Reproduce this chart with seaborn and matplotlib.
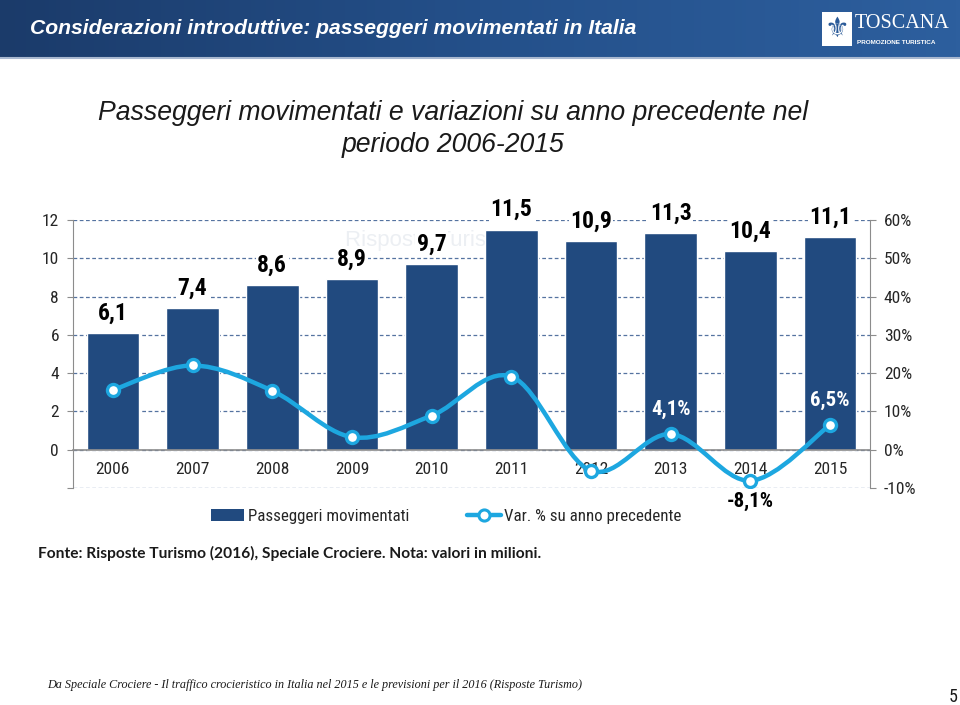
import numpy as np
import pandas as pd
import matplotlib
matplotlib.use("Agg")
import matplotlib.pyplot as plt
import seaborn as sns
from matplotlib.path import Path
from matplotlib.patches import PathPatch, Rectangle, Patch
from matplotlib.lines import Line2D
from matplotlib.colors import LinearSegmentedColormap
from matplotlib import font_manager as fm

# ---------------- data ----------------
years = ['2006', '2007', '2008', '2009', '2010', '2011', '2012', '2013', '2014', '2015']
passengers = [6.1, 7.4, 8.6, 8.9, 9.7, 11.5, 10.9, 11.3, 10.4, 11.1]
variation = [15.6, 22.0, 15.4, 3.3, 8.9, 19.1, -5.5, 4.1, -8.1, 6.5]
variation_labels = {'2013': '4,1%', '2014': '-8,1%', '2015': '6,5%'}
left_ticks = [0, 2, 4, 6, 8, 10, 12]
right_ticks = [-10, 0, 10, 20, 30, 40, 50, 60]

# ---------------- fonts ----------------
names = {f.name for f in fm.fontManager.ttflist}
def pick(*cands):
    for c in cands:
        if c in names:
            return c
    return 'DejaVu Sans'

narrow = pick('Liberation Sans Narrow', 'Roboto Condensed', 'Arial Narrow')
has_narrow = narrow != 'DejaVu Sans'
if not has_narrow:
    narrow = pick('Liberation Sans', 'Arial')
k = 1.0 if has_narrow else 0.82
sans = pick('Liberation Sans', 'Arial')
serif = pick('Liberation Serif', 'Times New Roman')
gothic = pick('Lato', 'Noto Sans')

sns.set_style('white')
plt.rcParams['font.family'] = [sans, 'DejaVu Sans']

BAR = '#214a7f'
LINE = '#1da7e0'
GRID = '#5573a0'
AXC = '#8c8c8c'
TXT = '#262626'

W, H = 960, 705
fig = plt.figure(figsize=(W / 100, H / 100), dpi=100)
fig.patch.set_facecolor('white')

# ---------------- header band ----------------
hdr = fig.add_axes([0, 1 - 57 / H, 1, 57 / H])
cmap = LinearSegmentedColormap.from_list('hdr', ['#1b3b6a', '#24508a', '#2d5f9e'])
hdr.imshow(np.linspace(0, 1, 256).reshape(1, -1), cmap=cmap, aspect='auto', extent=[0, 1, 0, 1])
hdr.set_axis_off()
fig.add_artist(Line2D([0, 1], [1 - 58 / H, 1 - 58 / H], color='#a9b8d0', lw=1.5))
fig.text(30 / W, 1 - 28 / H, 'Considerazioni introduttive: passeggeri movimentati in Italia',
         color='white', fontsize=15.2, fontweight='bold', fontstyle='italic', va='center', family=sans)
# logo
fig.add_artist(Rectangle((822 / W, 1 - 46 / H), 30 / W, 34 / H, facecolor='white', edgecolor='none'))
fig.text(837 / W, 1 - 29 / H, '\u269c', color='#2a5a98', fontsize=20, ha='center', va='center',
         family='DejaVu Sans')
fig.text(855 / W, 1 - 24 / H, 'TOSCANA', color='white', fontsize=14.5, va='center', family=serif)
fig.text(857 / W, 1 - 42 / H, 'PROMOZIONE TURISTICA', color='white', fontsize=4.6,
         fontweight='bold', va='center', family=sans)

# ---------------- subtitle ----------------
fig.text(453 / W, 1 - 113 / H, 'Passeggeri movimentati e variazioni su anno precedente nel',
         ha='center', va='center', fontsize=19.2, fontstyle='italic', color='#1a1a1a', family=sans)
fig.text(453 / W, 1 - 145 / H, 'periodo 2006-2015',
         ha='center', va='center', fontsize=19.2, fontstyle='italic', color='#1a1a1a', family=sans)

# ---------------- main chart ----------------
ax = fig.add_axes([73 / W, 1 - 488 / H, (870 - 73) / W, (488 - 220) / H])
df = pd.DataFrame({'anno': years, 'passeggeri': passengers})
sns.barplot(data=df, x='anno', y='passeggeri', color=BAR, width=0.66, saturation=1,
            ax=ax, zorder=2)
ax.set_xlim(-0.5, len(years) - 0.5)
ax.set_ylim(-2, 12)
ax.set_xlabel('')
ax.set_ylabel('')
ax.set_axisbelow(True)
ax.set_yticks([-2] + left_ticks)
ax.set_yticklabels([''] + [str(t) for t in left_ticks])
ax.yaxis.grid(True, linestyle=(0, (3, 2)), color=GRID, lw=0.9)
ax.xaxis.grid(False)
for s in ['top', 'right']:
    ax.spines[s].set_visible(False)
ax.spines['left'].set_color(AXC)
ax.spines['left'].set_bounds(-2, 12)
ax.spines['bottom'].set_position(('data', 0))
ax.spines['bottom'].set_color(AXC)
ax.spines['bottom'].set_linewidth(1.2)
xpos = np.arange(len(years))
ax.set_xticks(xpos)
ax.set_xticklabels(years)
ax.set_xticks(np.arange(0.5, len(years) - 0.5, 1), minor=True)
ax.tick_params(axis='x', which='major', length=0, pad=9, labelsize=12.5 * k, labelcolor=TXT)
ax.tick_params(axis='x', which='minor', length=5, direction='out', color=AXC, width=1)
ax.tick_params(axis='y', length=4, direction='out', color=AXC, labelsize=12.5 * k,
               labelcolor=TXT, pad=6)
for lab in ax.get_xticklabels() + ax.get_yticklabels():
    lab.set_family(narrow)

# faint watermark behind the bars
ax.text(2.91, 10.95, 'Risposte Turismo', color='#eceff3', fontsize=16, va='center',
        ha='left', zorder=0.8, family=sans)

# bar labels
ax.bar_label(ax.containers[0], labels=[f'{v:.1f}'.replace('.', ',') for v in passengers],
             padding=6, fontsize=17 * k, fontweight='bold', color='black', family=narrow,
             bbox=dict(facecolor='white', edgecolor='none', pad=1.0), zorder=5)

# ---------------- secondary axis ----------------
ax2 = ax.twinx()
ax2.set_ylim(-10, 60)
ax2.set_yticks(right_ticks)
ax2.set_yticklabels([f'{t}%' for t in right_ticks])
ax2.grid(False)
for s in ['top', 'left', 'bottom']:
    ax2.spines[s].set_visible(False)
ax2.spines['right'].set_color(AXC)
ax2.tick_params(axis='y', length=4, direction='out', color=AXC, labelsize=12.5 * k,
                labelcolor=TXT, pad=6)
for lab in ax2.get_yticklabels():
    lab.set_family(narrow)

# smooth (Bezier) curve through the data points
P = np.column_stack([xpos, variation]).astype(float)
n = len(P)
verts = [tuple(P[0])]
codes = [Path.MOVETO]
for i in range(n - 1):
    p0 = P[i - 1] if i > 0 else P[i]
    p1 = P[i]
    p2 = P[i + 1]
    p3 = P[i + 2] if i + 2 < n else P[i + 1]
    c1 = p1 + (p2 - p0) / 6.0
    c2 = p2 - (p3 - p1) / 6.0
    verts += [tuple(c1), tuple(c2), tuple(p2)]
    codes += [Path.CURVE4] * 3
ax2.add_patch(PathPatch(Path(verts, codes), facecolor='none', edgecolor=LINE, lw=3.2,
                        zorder=3, capstyle='round', joinstyle='round'))
sns.scatterplot(x=xpos, y=variation, ax=ax2, s=75, color='white', edgecolor=LINE,
                linewidth=2.4, zorder=4, legend=False)
ax2.set_xlim(-0.5, len(years) - 0.5)
ax2.set_ylim(-10, 60)
ax2.set_ylabel('')

for yr, txt in variation_labels.items():
    i = years.index(yr)
    v = variation[i]
    if v < 0:
        off, col = -15, 'black'
    else:
        off, col = 17.5, 'white'
    ax2.annotate(txt, (xpos[i], v), xytext=(0, off), textcoords='offset points',
                 ha='center', va='center', fontsize=15 * k, fontweight='bold',
                 color=col, family=narrow, zorder=6)

# ---------------- legend ----------------
handles = [Patch(facecolor=BAR, edgecolor='none'),
           Line2D([], [], color=LINE, lw=3.2, marker='o', markersize=8,
                  markerfacecolor='white', markeredgecolor=LINE, markeredgewidth=2.2)]
fig.legend(handles, ['Passeggeri movimentati', 'Var. % su anno precedente'],
           loc='center', bbox_to_anchor=(446 / W, 1 - 516 / H), ncol=2, frameon=False,
           handlelength=2.0, handletextpad=0.2, columnspacing=3.4,
           prop={'family': narrow, 'size': 12.2 * k})

# ---------------- source / footer ----------------
fig.text(38 / W, 1 - 553 / H,
         'Fonte: Risposte Turismo (2016), Speciale Crociere. Nota: valori in milioni.',
         fontsize=11.2, fontweight='bold', va='center', color='#1a1a1a', family=gothic)
fig.text(47 / W, 1 - 685 / H,
         'Da Speciale Crociere - Il traffico crocieristico in Italia nel 2015 e le previsioni per il 2016 (Risposte Turismo)',
         fontsize=8.7, fontstyle='italic', va='center', color='#1a1a1a', family=serif)
fig.text(953 / W, 1 - 697 / H, '5', fontsize=12 * k + 1, ha='center', va='center',
         color='#1a1a1a', family=narrow)

fig.savefig('out.png', dpi=100, facecolor='white')
